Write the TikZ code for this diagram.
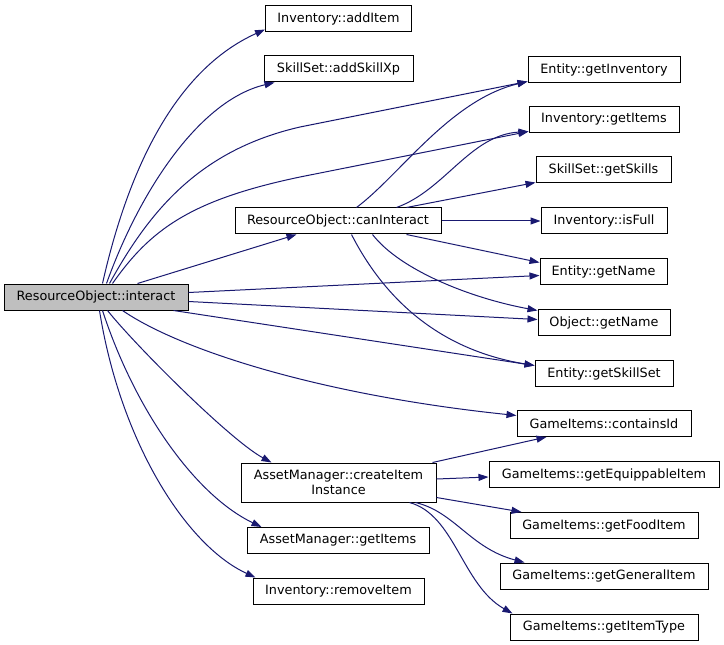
\documentclass[tikz,border=0pt]{standalone}
\usepackage{fontspec}
\setmainfont{DejaVu Sans}
\usetikzlibrary{arrows.meta,calc}
\definecolor{edgeblue}{HTML}{191970}
\definecolor{hl}{HTML}{BFBFBF}
\begin{document}
\begin{tikzpicture}[x=0.75pt,y=-0.75pt,
  fnode/.style={draw=black,line width=0.75pt,fill=white,inner sep=0pt,
    minimum height=19.5pt,font=\fontsize{9.6}{11.5}\selectfont,align=center},
  call/.style={draw=edgeblue,line width=0.75pt,
    -{Triangle[length=7.5pt,width=5.25pt]}}]
\useasboundingbox (0,0) rectangle (724,645);
% nodes
\node[fnode,fill=hl,minimum width=138pt] (int) at (96,297) {ResourceObject::interact};
\node[fnode,minimum width=109.5pt] (ai) at (338.5,18.5) {Inventory::addItem};
\node[fnode,minimum width=111.75pt] (ax) at (338.5,69) {SkillSet::addSkillXp};
\node[fnode,minimum width=154.5pt] (ci) at (338,221) {ResourceObject::canInteract};
\node[fnode,minimum width=146.25pt,minimum height=29.25pt] (cr) at (338.5,482.5) {AssetManager::createItem\\Instance};
\node[fnode,minimum width=136.5pt] (ag) at (338,540.5) {AssetManager::getItems};
\node[fnode,minimum width=128.25pt] (ri) at (338.5,591) {Inventory::removeItem};
\node[fnode,minimum width=114pt] (gi) at (604,69.5) {Entity::getInventory};
\node[fnode,minimum width=112.5pt] (ig) at (604,119.5) {Inventory::getItems};
\node[fnode,minimum width=101.25pt] (gs) at (603.5,170) {SkillSet::getSkills};
\node[fnode,minimum width=94.5pt] (fu) at (604,221) {Inventory::isFull};
\node[fnode,minimum width=95.25pt] (en) at (603.5,271.5) {Entity::getName};
\node[fnode,minimum width=99pt] (on) at (604,322.5) {Object::getName};
\node[fnode,minimum width=103.5pt] (ss) at (604,373.5) {Entity::getSkillSet};
\node[fnode,minimum width=130.5pt] (cid) at (604,423.5) {GameItems::containsId};
\node[fnode,minimum width=172.5pt] (eq) at (604,474.5) {GameItems::getEquippableItem};
\node[fnode,minimum width=141pt] (fo) at (604,525.5) {GameItems::getFoodItem};
\node[fnode,minimum width=156pt] (ge) at (604,576) {GameItems::getGeneralItem};
\node[fnode,minimum width=141pt] (it) at (604,627) {GameItems::getItemType};
% edges from interact
\draw[call] ($(int.north west)+(99,0)$) .. controls (128,170) and (175,70) .. ($(ai.south west)+(0,-2.5)$);
\draw[call] ($(int.north west)+(103,0)$) .. controls (140,190) and (200,100) .. ($(ax.south west)+(11,0)$);
\draw[call] ($(int.north west)+(106,0)$) .. controls (150,210) and (200,150) .. (300,127) -- ($(gi.south west)+(0,-1.5)$);
\draw[call] ($(int.north west)+(109,0)$) .. controls (150,230) and (190,200) .. (300,177) -- ($(ig.south west)+(0,-1.5)$);
\draw[call] ($(int.north west)+(134,0)$) -- ($(ci.south west)+(62,0)$);
\draw[call] ($(int.north east)+(0,9)$) -- ($(en.south west)+(0,-9.5)$);
\draw[call] ($(int.north east)+(0,18)$) -- ($(on.north west)+(0,10.5)$);
\draw[call] ($(int.south east)+(-15,0)$) -- ($(ss.north west)+(0,5.5)$);
\draw[call] ($(int.south west)+(119,0)$) .. controls (180,350) and (320,395) .. ($(cid.north west)+(0,5.5)$);
\draw[call] ($(int.south west)+(104,0)$) .. controls (135,345) and (230,440) .. ($(cr.north west)+(31,0)$);
\draw[call] ($(int.south west)+(99,0)$) .. controls (135,410) and (195,495) .. ($(ag.north west)+(15,0)$);
\draw[call] ($(int.south west)+(96,0)$) .. controls (120,440) and (185,545) .. ($(ri.north west)+(3,0)$);
% edges from canInteract
\draw[call] ($(ci.north west)+(122,0)$) .. controls (400,175) and (450,100) .. ($(gi.south west)+(0,-1.5)$);
\draw[call] ($(ci.north west)+(162,0)$) .. controls (445,190) and (470,135) .. ($(ig.south west)+(0,-1.5)$);
\draw[call] ($(ci.north west)+(172,0)$) -- ($(gs.south west)+(0,-1)$);
\draw[call] (ci.east) -- (fu.west);
\draw[call] ($(ci.south west)+(172,0)$) -- ($(en.north west)+(0,4.5)$);
\draw[call] ($(ci.south west)+(138,0)$) .. controls (400,270) and (470,298) .. ($(on.north west)+(0,1.5)$);
\draw[call] ($(ci.south west)+(117,0)$) .. controls (385,300) and (440,350) .. ($(ss.north west)+(0,5.5)$);
% edges from createItemInstance
\draw[call] ($(cr.north east)+(-4,0)$) -- ($(cid.south west)+(30,0)$);
\draw[call] ($(cr.east)+(0,-3.5)$) -- ($(eq.west)+(0,2.5)$);
\draw[call] ($(cr.south east)+(0,-5)$) -- ($(fo.north west)+(12,0)$);
\draw[call] ($(cr.south west)+(175,0)$) .. controls (455,512) and (470,548) .. ($(ge.north west)+(25,0)$);
\draw[call] ($(cr.south west)+(169,0)$) .. controls (455,515) and (462,585) .. ($(it.north west)+(3,0)$);
\end{tikzpicture}
\end{document}
